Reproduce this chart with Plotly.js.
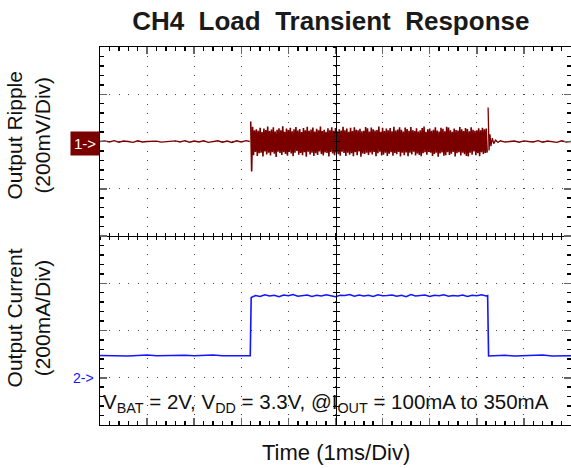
<!DOCTYPE html>
<html>
<head>
<meta charset="utf-8">
<script src="https://cdn.plot.ly/plotly-3.0.1.min.js"></script>
<style>html,body{margin:0;padding:0;background:#fff}</style>
</head>
<body>
<div id="chart" style="width:571px;height:468px"></div>
<script>
// ---------- data (time in ms, ripple in mV, current in mA) ----------
const ch1PreTime = [0,0.1,0.2,0.3,0.4,0.5,0.6,0.7,0.8,0.9,1.0,1.1,1.2,1.3,1.4,1.5,1.6,1.7,1.8,1.9,2.0,2.1,2.2,2.3,2.4,2.5,2.6,2.7,2.8,2.9,3.0,3.1,3.18];
const ch1PreMV   = [0,3,-2,4,-3,2,0,-4,3,-2,0,0,2,-3,0,0,3,-2,4,-3,2,-2,3,-4,0,3,-3,2,-4,3,-2,4,0];

const ch1BurstStart = 3.2;   // ms, first sample of the loaded interval
const ch1BurstStep  = 0.02;  // ms between samples
const ch1BurstMV = [
 85,-127,62,-58,48,-44,52,-61,45,-50,
 58,-47,40,-63,55,-42,49,-55,63,-48,
 44,-59,51,-45,60,-52,42,-66,50,-43,
 56,-49,47,-57,64,-45,41,-53,55,-60,
 49,-44,58,-51,43,-62,52,-47,61,-40,
 46,-56,53,-49,40,-58,57,-45,48,-64,
 62,-43,45,-55,51,-48,59,-61,42,-50,
 54,-57,47,-42,63,-53,44,-59,50,-46,
 41,-49,56,-63,48,-44,60,-51,45,-58,
 57,-46,43,-54,52,-60,46,-43,62,-49,
 48,-61,55,-47,41,-56,58,-50,44,-62,
 60,-45,50,-58,47,-42,54,-64,43,-51,
 45,-53,61,-48,56,-57,42,-46,59,-55,
 52,-44,46,-62,49,-50,63,-43,41,-59,
 58,-56,44,-47,55,-61,48,-52,57,-45,
 43,-60,62,-49,46,-54,51,-44,60,-63,
 50,-47,42,-58,59,-46,53,-62,45,-48,
 61,-55,48,-43,44,-59,56,-51,42,-57,
 47,-62,57,-50,63,-45,41,-56,52,-44,
 55,-48,45,-61,50,-53,60,-47,46,-64,
 42,-51,58,-46,54,-60,43,-58,62,-45,
 59,-57,47,-52,41,-44,55,-63,49,-50,
 46,-45,61,-59,52,-48,44,-54,57,-61,
 53,-63,43,-47,60,-56,50,-42,45,-58,
 48,-50,56,-62,47,-45,58,-53,52,-49,
 55,-47
];

const ch1PostTime = [8.24,8.26,8.28,8.30,8.33,8.36,8.40,8.45,8.5,8.6,8.7,8.8,8.9,9.0,9.1,9.2,9.3,9.4,9.5,9.6,9.7,9.8,9.9,10];
const ch1PostMV   = [144,-38,30,-20,14,-9,6,-4,3,-3,0,2,-3,3,0,-2,4,-3,2,0,-4,3,-2,0];

const ch2Time = [0,0.2,0.4,0.6,0.8,1.0,1.2,1.4,1.6,1.8,2.0,2.2,2.4,2.6,2.8,3.0,3.19,
 3.21,3.3,3.4,3.5,3.6,3.7,3.8,3.9,4.0,4.1,4.2,4.3,4.4,4.5,4.6,4.7,4.8,4.9,5.0,5.1,5.2,5.3,5.4,5.5,5.6,5.7,5.8,5.9,6.0,6.1,6.2,6.3,6.4,6.5,6.6,6.7,6.8,6.9,7.0,7.1,7.2,7.3,7.4,7.5,7.6,7.7,7.8,7.9,8.0,8.1,8.2,8.23,
 8.25,8.4,8.6,8.8,9.0,9.2,9.4,9.6,9.8,10];
const ch2MA = [94,93,95,92,94,96,93,94,92,95,93,94,96,93,92,94,93,
 340,348,344,351,346,349,343,350,347,352,345,348,350,344,349,346,351,347,343,349,348,352,345,350,346,349,344,351,347,348,350,345,349,343,352,346,348,350,344,349,347,351,345,348,346,350,344,349,347,351,346,348,
 92,93,95,92,94,93,96,92,94,93];

const titleText = 'CH4&nbsp; Load&nbsp; Transient&nbsp; Response';
const ch1Label = 'Output Ripple<br>(200mV/Div)';
const ch2Label = 'Output Current<br>(200mA/Div)';
const xLabel = 'Time (1ms/Div)';
const noteText = 'V<sub>BAT</sub> = 2V, V<sub>DD</sub> = 3.3V, @I<sub>OUT</sub> = 100mA to 350mA';

// ---------- styling ----------
const red = '#7a0000';
const blue = '#1414ff';
const FONT = 'Liberation Sans, Arial, Helvetica, sans-serif';

const traces = [
  {x: ch1PreTime, y: ch1PreMV, type:'scatter', mode:'lines', line:{color:red, width:1.3}, xaxis:'x', yaxis:'y', hoverinfo:'skip'},
  {x0: ch1BurstStart, dx: ch1BurstStep, y: ch1BurstMV, type:'scatter', mode:'lines', line:{color:red, width:1.6}, xaxis:'x', yaxis:'y', hoverinfo:'skip'},
  {x: ch1PostTime, y: ch1PostMV, type:'scatter', mode:'lines', line:{color:red, width:1.3}, xaxis:'x', yaxis:'y', hoverinfo:'skip'},
  {x: ch2Time, y: ch2MA, type:'scatter', mode:'lines', line:{color:blue, width:1.6}, xaxis:'x', yaxis:'y2', hoverinfo:'skip'},
  // empty traces so the centre-cross tick axes are created
  {x: [], y: [], xaxis:'x2', yaxis:'y', type:'scatter'},
  {x: [], y: [], xaxis:'x3', yaxis:'y', type:'scatter'},
  {x: [], y: [], xaxis:'x', yaxis:'y3', type:'scatter'},
  {x: [], y: [], xaxis:'x', yaxis:'y4', type:'scatter'}
];

const frameAxis = {
  showgrid:true, gridcolor:'#444', gridwidth:1, griddash:'1px,8.42px',
  zeroline:false, showline:true, linecolor:'#000', linewidth:1, mirror:'ticks',
  ticks:'inside', ticklen:7, tickcolor:'#666', tickwidth:1.5, showticklabels:false, fixedrange:true
};

const centreX = {range:[0,10], overlaying:'x', anchor:'free', position:0.5, showline:true, linecolor:'#000', linewidth:1,
  dtick:0.2, tick0:0, ticklen:3, tickcolor:'#000', showgrid:false, zeroline:false, showticklabels:false};
const centreY = {range:[-1200,400], overlaying:'y', anchor:'free', position:0.5, showline:true, linecolor:'#000', linewidth:1,
  dtick:40, tick0:0, ticklen:3, tickcolor:'#000', showgrid:false, zeroline:false, showticklabels:false};

const layout = {
  width:571, height:468,
  margin:{l:100, r:0, t:47, b:43},
  paper_bgcolor:'#fff', plot_bgcolor:'#fff',
  showlegend:false,
  font:{family:FONT, color:'#111'},
  title:{text:titleText, font:{family:FONT, size:26, weight:'bold', color:'#1a1a1a'}, xref:'paper', x:0.49, xanchor:'center', yref:'container', y:0.955, yanchor:'middle'},
  xaxis: Object.assign({}, frameAxis, {range:[0,10], dtick:1, tick0:0, minor:{dtick:0.2, tick0:0, ticks:'inside', ticklen:4, tickcolor:'#000', showgrid:false}}),
  yaxis: Object.assign({}, frameAxis, {range:[-1200,400], dtick:200, tick0:0, minor:{dtick:40, tick0:0, ticks:'inside', ticklen:4, tickcolor:'#000', showgrid:false}}),
  yaxis2:{range:[-200,1400], overlaying:'y', visible:false, fixedrange:true},
  xaxis2: Object.assign({}, centreX, {ticks:'outside'}),
  xaxis3: Object.assign({}, centreX, {ticks:'inside'}),
  yaxis3: Object.assign({}, centreY, {ticks:'outside'}),
  yaxis4: Object.assign({}, centreY, {ticks:'inside'}),
  annotations:[
    {text:ch1Label, textangle:-90, xref:'paper', yref:'paper', x:-0.152, y:0.767, xanchor:'center', yanchor:'middle', showarrow:false, font:{family:FONT, size:21, color:'#111'}},
    {text:ch2Label, textangle:-90, xref:'paper', yref:'paper', x:-0.152, y:0.283, xanchor:'center', yanchor:'middle', showarrow:false, font:{family:FONT, size:21, color:'#111'}},
    {text:'1->', xref:'paper', yref:'y', x:0, y:0, xanchor:'right', yanchor:'middle', yshift:-2, showarrow:false, bgcolor:red, borderpad:3, font:{family:FONT, size:15, color:'#fff'}},
    {text:'2->', xref:'paper', yref:'y2', x:0, y:0, xanchor:'right', yanchor:'middle', xshift:-4, showarrow:false, font:{family:FONT, size:14, color:blue}},
    {text:noteText, xref:'paper', yref:'paper', x:0, y:0.058, xanchor:'left', yanchor:'middle', xshift:1, showarrow:false, font:{family:FONT, size:20.5, color:'#111'}},
    {text:xLabel, xref:'paper', yref:'paper', x:0.5, y:-0.072, xanchor:'center', yanchor:'middle', showarrow:false, font:{family:FONT, size:22, color:'#111'}}
  ]
};

Plotly.newPlot('chart', traces, layout, {staticPlot:true, displayModeBar:false});
</script>
</body>
</html>
